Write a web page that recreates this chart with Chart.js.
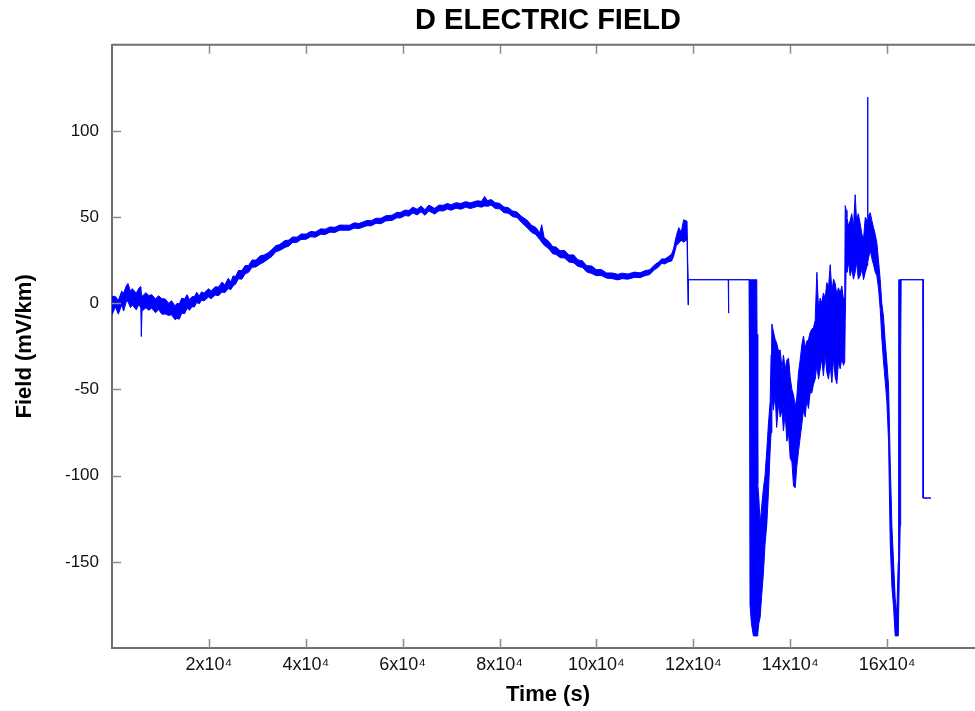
<!DOCTYPE html>
<html>
<head>
<meta charset="utf-8">
<title>D ELECTRIC FIELD</title>
<script src="https://cdn.jsdelivr.net/npm/chart.js@4/dist/chart.umd.min.js"></script>
<style>
  html, body { margin: 0; padding: 0; background: #ffffff; overflow: hidden; }
  canvas { display: block; }
</style>
</head>
<body>
<canvas id="c" width="986" height="711"></canvas>
<script>
// ---- Data (time in seconds, field in mV/km) ----
// Each sample gives the lower and upper edge of the noisy trace at that time.
const times = [
  0, 700, 1300, 2000, 2400, 3000, 3300, 3800, 4200, 5000, 5600, 5950, 6050, 6200, 7000, 7600, 8200, 9000, 9600, 10300,
  11000, 11700, 12300, 13000, 13400, 13900, 14400, 15000, 15500, 16000, 16500, 17000, 17500, 18000, 18500, 19000, 19900, 20500, 21300, 22000,
  22700, 23300, 24000, 24500, 25000, 25500, 26100, 26800, 27500, 28200, 28900, 29700, 30600, 31400, 32300, 33000, 33800, 34600, 35700, 36500,
  37300, 38200, 39000, 40100, 41000, 42000, 43100, 44000, 45000, 46000, 47000, 49000, 50000, 51000, 52600, 53500, 54500, 55500, 56500, 57800,
  58800, 59500, 60500, 61300, 62100, 63000, 63800, 64600, 65400, 66600, 67500, 68400, 69200, 70000, 71000, 72000, 73000, 74000, 75400, 76300,
  76900, 77500, 78300, 79100, 80000, 80900, 81800, 82700, 83600, 84500, 85700, 86600, 87500, 88300, 88700, 89200, 90200, 91000, 91600, 92500,
  93400, 94300, 95300, 96200, 97100, 98000, 99000, 100000, 101000, 102100, 103300, 104400, 105300, 106500, 107800, 109000, 110000, 111000, 112000, 112800,
  113500, 114100, 114800, 115500, 115900, 116500, 117000, 117500, 118000, 118700, 118900, 119000, 127200, 127260, 127320, 131500, 131600, 131700, 132000, 132400,
  132900, 133100, 133150, 133300, 133500, 133800, 134100, 134480, 134800, 135170, 135500, 135860, 136050, 136210, 136500, 136900, 137200, 137600, 137930, 138300,
  138600, 138960, 139300, 139650, 140000, 140350, 140680, 141030, 141350, 141710, 142050, 142400, 142740, 143100, 143400, 143770, 144100, 144450, 144800, 145150,
  145500, 145850, 146190, 146500, 146850, 147220, 147550, 147900, 148250, 148600, 148950, 149280, 149630, 149950, 150320, 150650, 151000, 151250, 151350, 151550,
  151700, 152000, 152380, 152700, 153050, 153410, 153700, 154050, 154450, 154800, 155130, 155500, 155900, 155960, 156050, 156510, 156850, 157200, 157550, 157890,
  158250, 158580, 158900, 159260, 159600, 159950, 160300, 160640, 161000, 161330, 161670, 162000, 162300, 162400, 162700, 162800, 162900, 167450, 167460, 169050
];
const fieldLow = [
  -6.7, -2.0, -6.3, -1.0, -4.5, 1.5, 1.0, -2.5, -1.0, -3.8, -0.5, -3.0, -19.3, -4.5, -2.6, -4.0, -2.8, -5.5, -3.6, -6.3,
  -6.2, -7.0, -6.7, -9.5, -8.8, -9.2, -5.7, -6.0, -2.8, -4.0, -2.0, -2.1, 0.5, -0.3, 1.8, 1.4, 3.6, 2.7, 4.8, 4.4,
  6.5, 6.2, 8.6, 7.9, 10.1, 11.1, 14.2, 14.0, 17.1, 18.0, 20.9, 21.1, 22.8, 24.0, 25.8, 27.2, 29.9, 30.6, 32.4, 33.2,
  35.3, 35.4, 37.0, 37.2, 38.6, 38.4, 40.1, 39.9, 41.3, 41.1, 42.4, 42.4, 43.6, 43.4, 45.0, 45.0, 46.4, 46.2, 47.8, 48.1,
  49.6, 49.5, 50.9, 50.6, 52.4, 51.3, 53.1, 51.1, 53.6, 51.8, 53.7, 53.6, 54.7, 54.0, 55.2, 54.6, 55.7, 55.0, 56.2, 55.8,
  56.5, 56.3, 56.9, 55.0, 54.8, 52.6, 52.3, 50.3, 49.8, 47.0, 43.8, 41.2, 39.8, 37.0, 35.5, 33.8, 31.5, 28.7, 28.4, 26.5,
  26.3, 24.0, 23.5, 21.4, 20.8, 18.2, 17.3, 16.0, 16.2, 14.6, 14.3, 13.6, 14.3, 14.0, 15.0, 14.9, 16.0, 16.7, 19.5, 21.0,
  23.2, 22.8, 24.0, 24.5, 27.0, 33.5, 35.0, 36.5, 35.5, 37.0, -0.9, 13.7, 13.7, -5.7, 13.7, 13.7, -37, -175, -186, -193,
  -193, -193, -193, -192, -186, -182, -170, -156, -140, -128, -110, -85, -75, -53, -62, -53, -72, -58, -66, -62,
  -74, -64, -80, -75, -90, -92, -106, -107, -95, -86, -78, -70, -62, -66, -56, -61, -52, -52, -47, -44,
  -36, -44, -38, -32, -42, -30, -40, -44, -36, -46, -32, -43, -46.6, -34, -38, -32, -36, -34, -10, 22.4,
  18, 24, 16, 20, 14, 18, 24, 14, 16, 20, 13.7, 18, 22, 24, 24, 31, 26, 22.4, 18, 16,
  8, -3.5, -20, -34, -45, -57, -80, -139, -165, -176, -193, -193, -193, -193, -129, -28, 13.7, 13.7, -113, -113
];
const fieldHigh = [
  4.0, 4.0, 1.7, 7.0, 6.0, 10.5, 11.5, 7.0, 8.5, 5.9, 9.0, 9.8, 6.0, 4.0, 6.2, 4.5, 5.0, 2.5, 4.4, 2.7,
  2.5, 0.0, 1.5, -1.5, -0.1, -0.2, 3.0, 2.5, 5.0, 2.0, 3.8, 3.9, 6.4, 4.2, 6.7, 5.9, 8.4, 7.2, 9.6, 9.4,
  12.3, 10.7, 14.5, 12.4, 15.9, 15.6, 19.0, 19.0, 21.9, 22.0, 25.1, 25.1, 27.6, 28.0, 29.5, 31.2, 33.4, 34.1, 36.4, 36.7,
  38.5, 38.4, 40.2, 40.2, 41.7, 41.4, 43.2, 43.0, 44.3, 44.1, 45.4, 45.3, 46.7, 46.3, 48.1, 47.9, 49.4, 49.3, 50.8, 51.1,
  52.8, 52.7, 54.1, 53.9, 55.8, 54.6, 56.5, 54.3, 57.0, 55.1, 57.0, 56.9, 57.9, 57.2, 58.4, 57.9, 59.0, 58.3, 59.5, 59.2,
  62.0, 59.6, 60.2, 58.4, 58.0, 55.9, 55.5, 53.6, 53.0, 50.5, 48.2, 45.3, 44.0, 41.0, 45.6, 38.2, 35.8, 32.8, 32.8, 30.5,
  30.7, 28.0, 28.1, 25.2, 24.7, 21.8, 21.7, 19.5, 19.6, 17.6, 17.6, 16.8, 17.5, 17.0, 18.1, 17.7, 18.9, 19.5, 22.3, 23.9,
  25.8, 25.7, 27.0, 28.5, 31.5, 39.3, 43.9, 41.2, 48.5, 47.6, 13.7, 13.7, 13.7, 13.7, 13.7, 13.7, 13.7, 13.7, 13.7, 13.7,
  13.7, 13.7, -18, -105, -112, -128, -118, -107, -100, -85, -70, -57, -30, -12, -16, -21, -23, -28, -27, -38,
  -30, -38, -33, -31.7, -43, -50, -53, -60, -55, -40, -33, -24, -19, -26, -22, -21, -17, -15, -14, -10,
  18, -3, 3, 0, 6, 3, 12, 9, 22.4, 7, 14, 11.5, 5, 9, 6, 10, 2, 4, 56.7, 54,
  50, 45, 48, 52, 44, 63, 48, 52, 46, 40, 37.5, 50, 48, 119.6, 50, 52.6, 48, 44, 40, 35,
  24, 13.7, 0, -8, -22, -34, -48, -92, -130, -150, -171.5, -180, -150, 13.7, 13.7, 13.7, 13.7, 13.7, -113, -113
];
const xTickValues = [20000, 40000, 60000, 80000, 100000, 120000, 140000, 160000];
const yTickValues = [-150, -100, -50, 0, 50, 100];
const xRange = [0, 180000];
const yRange = [-200, 150];

// ---- Chart ----
const FONT = "'Liberation Sans', Arial, Helvetica, sans-serif";
const BLUE = 'rgb(0,0,255)';
const AXIS = '#707070';
const TICK = '#8c8c8c';

const highPts = times.map((t, i) => ({ x: t, y: fieldHigh[i] }));
const lowPts = times.map((t, i) => ({ x: t, y: fieldLow[i] }));

const frameAndTicks = {
  id: 'frameAndTicks',
  afterDraw(chart) {
    const { ctx, chartArea: a, scales } = chart;
    const xs = scales.x, ys = scales.y;
    const len = 9;
    ctx.save();
    ctx.strokeStyle = TICK;
    ctx.lineWidth = 1.5;
    ctx.beginPath();
    xTickValues.forEach(v => {
      const px = Math.round(xs.getPixelForValue(v)) + 0.5;
      ctx.moveTo(px, a.bottom); ctx.lineTo(px, a.bottom - len);
      ctx.moveTo(px, a.top); ctx.lineTo(px, a.top + len);
    });
    yTickValues.forEach(v => {
      const py = Math.round(ys.getPixelForValue(v)) + 0.5;
      ctx.moveTo(a.left, py); ctx.lineTo(a.left + len, py);
      ctx.moveTo(a.right, py); ctx.lineTo(a.right - len, py);
    });
    ctx.stroke();
    ctx.strokeStyle = AXIS;
    ctx.lineWidth = 2;
    ctx.beginPath();
    ctx.moveTo(a.left, a.top); ctx.lineTo(a.right, a.top);
    ctx.moveTo(a.right, a.top); ctx.lineTo(a.right, a.bottom);
    ctx.stroke();
    ctx.restore();
  }
};

new Chart(document.getElementById('c'), {
  type: 'line',
  data: {
    datasets: [
      { label: 'upper', data: highPts, borderColor: BLUE, borderWidth: 1, pointRadius: 0, fill: false },
      { label: 'lower', data: lowPts, borderColor: BLUE, borderWidth: 1, pointRadius: 0, fill: '-1', backgroundColor: BLUE }
    ]
  },
  options: {
    responsive: false,
    animation: false,
    devicePixelRatio: 1,
    elements: { line: { tension: 0, borderJoinStyle: 'bevel' } },
    layout: { padding: { left: 0, right: 2, top: 0, bottom: 0 } },
    plugins: {
      legend: { display: false },
      tooltip: { enabled: false },
      title: {
        display: true,
        text: 'D ELECTRIC FIELD',
        fullSize: false,
        color: '#000',
        font: { family: FONT, size: 29, weight: 'bold' },
        padding: { top: 4, bottom: 6 }
      }
    },
    scales: {
      x: {
        type: 'linear',
        min: xRange[0],
        max: xRange[1],
        grid: { display: false },
        border: { display: true, color: AXIS, width: 2 },
        afterBuildTicks: s => { s.ticks = xTickValues.map(v => ({ value: v })); },
        afterFit: s => { s.height = 63; },
        ticks: {
          color: '#111',
          padding: -2,
          autoSkip: false,
          maxRotation: 0,
          font: { family: FONT, size: 18 },
          callback: v => (v / 10000) + 'x10\u2074'
        },
        title: {
          display: true,
          text: 'Time (s)',
          color: '#000',
          font: { family: FONT, size: 22, weight: 'bold' },
          padding: { top: 0, bottom: 3 }
        }
      },
      y: {
        type: 'linear',
        min: yRange[0],
        max: yRange[1],
        grid: { display: false },
        border: { display: true, color: AXIS, width: 2 },
        afterBuildTicks: s => { s.ticks = yTickValues.map(v => ({ value: v })); },
        afterFit: s => { s.width = 112; },
        ticks: {
          color: '#111',
          padding: 5,
          font: { family: FONT, size: 17 }
        },
        title: {
          display: true,
          text: 'Field (mV/km)',
          color: '#000',
          font: { family: FONT, size: 22, weight: 'bold' },
          padding: { top: 12, bottom: 0 }
        }
      }
    }
  },
  plugins: [frameAndTicks]
});
</script>
</body>
</html>
